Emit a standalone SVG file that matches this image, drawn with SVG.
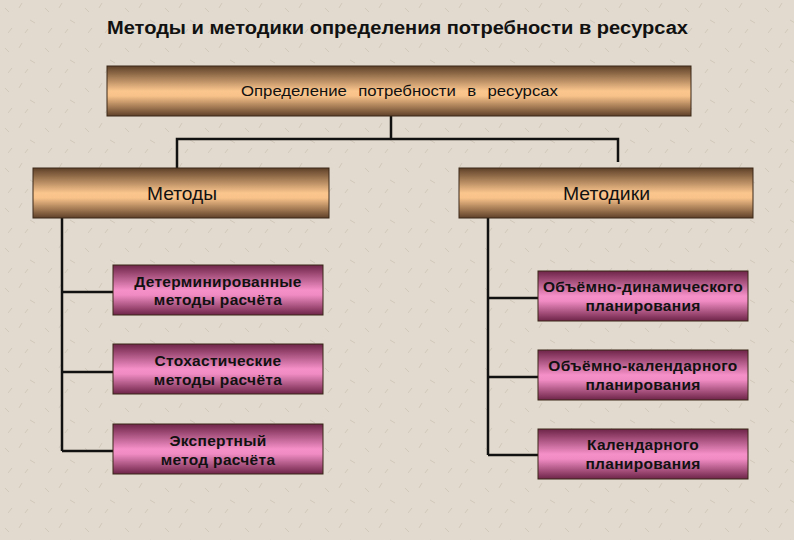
<svg xmlns="http://www.w3.org/2000/svg" width="794" height="540" viewBox="0 0 794 540">
<defs>
<linearGradient id="brown" x1="0" y1="0" x2="0" y2="1">
<stop offset="0" stop-color="#5e4028"/>
<stop offset="0.5" stop-color="#fbc68e"/>
<stop offset="0.6" stop-color="#f8c28a"/>
<stop offset="1" stop-color="#5e4028"/>
</linearGradient>
<linearGradient id="pink" x1="0" y1="0" x2="0" y2="1">
<stop offset="0" stop-color="#6e2448"/>
<stop offset="0.5" stop-color="#f590c8"/>
<stop offset="0.6" stop-color="#f08cc3"/>
<stop offset="1" stop-color="#6e2448"/>
</linearGradient>
<pattern id="tex" width="40" height="40" patternUnits="userSpaceOnUse">
<rect width="40" height="40" fill="#e2dace"/>
<path d="M5 8 l4 4 M22 3 l-3 5 M30 20 l5 3 M12 28 l-4 5 M25 33 l3 -4" stroke="#d2c9bb" stroke-width="1" fill="none"/>
</pattern>
</defs>
<style>
.box{stroke:#3a2818;stroke-width:1}
.t{font-family:"Liberation Sans",Arial,sans-serif;fill:#111;text-anchor:middle}
.big{font-size:19px}
.sm{font-size:15px;word-spacing:6px}
.pk{font-size:15.5px;font-weight:bold;letter-spacing:0.3px}
.ln{stroke:#111;stroke-width:2.5;fill:none}
</style>
<rect width="794" height="540" fill="url(#tex)"/>
<text class="t" x="397.5" y="34" textLength="581" lengthAdjust="spacingAndGlyphs" style="font-size:18px;font-weight:bold">Методы и методики определения потребности в ресурсах</text>
<g id="connectors">
<path class="ln" d="M391 116 V139 M177 168 V139 H618 V162"/>
<path class="ln" d="M62 218 V451 M62 292 H113 M62 372 H113 M62 451 H113"/>
<path class="ln" d="M488 218 V455 M488 298 H538 M488 377 H538 M488 455 H538"/>
</g>
<g id="root">
<rect class="box" x="107" y="66" width="584" height="50" fill="url(#brown)"/>
<text class="t sm" x="399.5" y="96" textLength="317" lengthAdjust="spacingAndGlyphs">Определение потребности в ресурсах</text>
</g>
<g id="metody">
<rect class="box" x="33" y="168" width="296" height="50" fill="url(#brown)"/>
<text class="t big" x="182" y="200" textLength="70" lengthAdjust="spacingAndGlyphs">Методы</text>
</g>
<g id="metodiki">
<rect class="box" x="459" y="168" width="294" height="50" fill="url(#brown)"/>
<text class="t big" x="606.5" y="200" textLength="87" lengthAdjust="spacingAndGlyphs">Методики</text>
</g>
<g id="det">
<rect class="box" x="113" y="265" width="210" height="50" fill="url(#pink)"/>
<text class="t pk" x="218" y="287">Детерминированные</text>
<text class="t pk" x="218" y="305">методы расчёта</text>
</g>
<g id="stoh">
<rect class="box" x="113" y="344" width="210" height="50" fill="url(#pink)"/>
<text class="t pk" x="218" y="366">Стохастические</text>
<text class="t pk" x="218" y="385">методы расчёта</text>
</g>
<g id="exp">
<rect class="box" x="113" y="424" width="210" height="50" fill="url(#pink)"/>
<text class="t pk" x="218" y="446">Экспертный</text>
<text class="t pk" x="218" y="465">метод расчёта</text>
</g>
<g id="obdin">
<rect class="box" x="538" y="271" width="210" height="50" fill="url(#pink)"/>
<text class="t pk" x="643" y="292">Объёмно-динамического</text>
<text class="t pk" x="643" y="311">планирования</text>
</g>
<g id="obkal">
<rect class="box" x="538" y="350" width="210" height="50" fill="url(#pink)"/>
<text class="t pk" x="643" y="371">Объёмно-календарного</text>
<text class="t pk" x="643" y="390">планирования</text>
</g>
<g id="kal">
<rect class="box" x="538" y="429" width="210" height="50" fill="url(#pink)"/>
<text class="t pk" x="643" y="450">Календарного</text>
<text class="t pk" x="643" y="469">планирования</text>
</g>
</svg>
